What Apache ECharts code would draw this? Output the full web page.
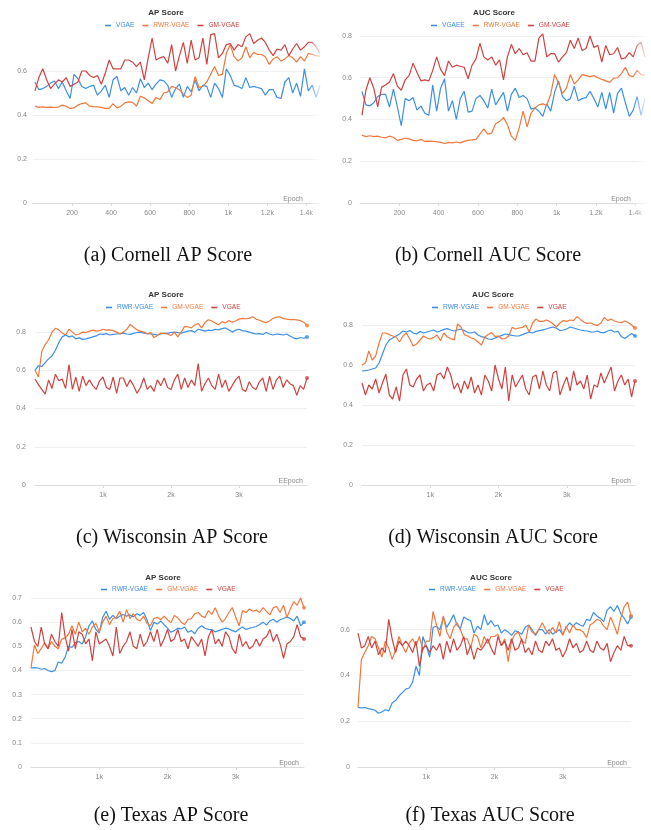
<!DOCTYPE html>
<html>
<head>
<meta charset="utf-8">
<script src="https://cdn.jsdelivr.net/npm/echarts@6/dist/echarts.min.js"></script>
<style>
html,body{margin:0;padding:0;background:#fff;}
#chart{width:651px;height:830px;}
</style>
</head>
<body>
<div id="chart"></div>
<script>
// ---------- Data ----------
const cornellEpochs = [10,30,50,70,90,110,130,150,170,190,210,230,250,270,290,310,330,350,370,390,410,430,450,470,490,510,530,550,570,590,610,630,650,670,690,710,730,750,770,790,810,830,850,870,890,910,930,950,970,990,1010,1030,1050,1070,1090,1110,1130,1150,1170,1190,1210,1230,1250,1270,1290,1310,1330,1350,1370,1390,1410,1430,1450,1470];

const wiscEpochs = [0,50,100,150,200,250,300,350,400,450,500,550,600,650,700,750,800,850,900,950,1000,1050,1100,1150,1200,1250,1300,1350,1400,1450,1500,1550,1600,1650,1700,1750,1800,1850,1900,1950,2000,2050,2100,2150,2200,2250,2300,2350,2400,2450,2500,2550,2600,2650,2700,2750,2800,2850,2900,2950,3000,3050,3100,3150,3200,3250,3300,3350,3400,3450,3500,3550,3600,3650,3700,3750,3800,3850,3900,3950,4000];

// (a) Cornell AP
const cornellApVGAE = [0.55,0.515,0.52,0.53,0.545,0.555,0.52,0.55,0.51,0.475,0.585,0.565,0.53,0.52,0.53,0.535,0.49,0.51,0.535,0.48,0.56,0.575,0.51,0.525,0.49,0.525,0.50,0.565,0.525,0.545,0.515,0.54,0.56,0.555,0.535,0.48,0.52,0.54,0.48,0.53,0.505,0.56,0.51,0.535,0.53,0.48,0.545,0.52,0.48,0.61,0.58,0.535,0.53,0.52,0.57,0.525,0.53,0.525,0.52,0.49,0.515,0.515,0.48,0.475,0.55,0.57,0.50,0.545,0.485,0.61,0.51,0.535,0.48,0.535];
const cornellApRWR = [0.44,0.435,0.437,0.435,0.436,0.434,0.436,0.445,0.44,0.43,0.432,0.445,0.452,0.455,0.44,0.438,0.437,0.435,0.43,0.43,0.452,0.432,0.44,0.455,0.46,0.458,0.44,0.485,0.478,0.465,0.452,0.48,0.47,0.50,0.505,0.53,0.525,0.515,0.495,0.48,0.49,0.575,0.525,0.53,0.55,0.585,0.62,0.58,0.585,0.68,0.72,0.665,0.645,0.66,0.71,0.66,0.685,0.675,0.675,0.665,0.63,0.655,0.665,0.645,0.655,0.67,0.66,0.64,0.665,0.645,0.68,0.675,0.67,0.665];
const cornellApGM = [0.51,0.57,0.61,0.56,0.52,0.54,0.56,0.55,0.57,0.53,0.54,0.55,0.60,0.60,0.58,0.57,0.58,0.54,0.59,0.65,0.61,0.61,0.61,0.65,0.65,0.64,0.62,0.64,0.56,0.66,0.75,0.65,0.66,0.665,0.635,0.72,0.60,0.67,0.73,0.635,0.74,0.65,0.66,0.75,0.63,0.765,0.77,0.66,0.68,0.72,0.725,0.695,0.72,0.71,0.755,0.77,0.725,0.74,0.75,0.73,0.695,0.67,0.70,0.695,0.72,0.67,0.70,0.725,0.695,0.71,0.73,0.73,0.71,0.68];

// (b) Cornell AUC
const cornellAucVGAEE = [0.535,0.47,0.465,0.48,0.51,0.52,0.52,0.46,0.545,0.46,0.37,0.50,0.49,0.505,0.445,0.465,0.43,0.42,0.565,0.44,0.55,0.595,0.44,0.49,0.40,0.50,0.535,0.435,0.44,0.50,0.515,0.49,0.455,0.545,0.47,0.50,0.53,0.44,0.52,0.55,0.505,0.515,0.50,0.45,0.455,0.44,0.415,0.475,0.44,0.53,0.585,0.51,0.49,0.50,0.56,0.49,0.50,0.505,0.535,0.50,0.46,0.53,0.45,0.53,0.43,0.525,0.55,0.48,0.415,0.445,0.51,0.42,0.50];
const cornellAucRWR = [0.325,0.318,0.322,0.318,0.320,0.315,0.312,0.320,0.315,0.300,0.305,0.310,0.307,0.300,0.298,0.305,0.295,0.296,0.295,0.294,0.290,0.285,0.290,0.288,0.292,0.288,0.295,0.300,0.302,0.305,0.33,0.355,0.33,0.335,0.38,0.39,0.41,0.375,0.32,0.30,0.36,0.44,0.365,0.43,0.455,0.47,0.475,0.468,0.52,0.615,0.575,0.525,0.55,0.615,0.57,0.59,0.615,0.61,0.605,0.61,0.60,0.592,0.585,0.578,0.598,0.60,0.62,0.65,0.61,0.605,0.635,0.615,0.61];
const cornellAucGM = [0.42,0.54,0.60,0.55,0.46,0.555,0.565,0.58,0.62,0.56,0.54,0.59,0.61,0.67,0.625,0.585,0.59,0.585,0.635,0.70,0.64,0.61,0.68,0.65,0.66,0.655,0.65,0.595,0.66,0.69,0.765,0.70,0.685,0.70,0.66,0.685,0.59,0.70,0.76,0.715,0.74,0.71,0.72,0.68,0.68,0.79,0.81,0.70,0.715,0.715,0.675,0.70,0.72,0.78,0.74,0.79,0.73,0.74,0.80,0.745,0.755,0.675,0.755,0.71,0.715,0.745,0.69,0.695,0.72,0.70,0.755,0.77,0.70];

// (c) Wisconsin AP
const wiscApRWR = [0.600,0.625,0.620,0.640,0.660,0.675,0.705,0.745,0.775,0.785,0.775,0.780,0.765,0.770,0.762,0.765,0.770,0.775,0.780,0.790,0.788,0.792,0.785,0.788,0.790,0.792,0.795,0.790,0.788,0.793,0.798,0.800,0.795,0.792,0.790,0.788,0.785,0.790,0.795,0.793,0.798,0.800,0.797,0.795,0.800,0.805,0.808,0.800,0.815,0.810,0.805,0.810,0.808,0.815,0.812,0.818,0.822,0.812,0.800,0.810,0.815,0.808,0.805,0.800,0.795,0.790,0.792,0.788,0.798,0.790,0.785,0.790,0.788,0.785,0.790,0.780,0.770,0.765,0.772,0.768,0.775];
const wiscApGM = [0.600,0.565,0.700,0.735,0.760,0.800,0.820,0.812,0.795,0.785,0.815,0.800,0.785,0.790,0.800,0.798,0.805,0.810,0.805,0.808,0.815,0.810,0.812,0.808,0.800,0.790,0.800,0.815,0.840,0.825,0.812,0.805,0.800,0.790,0.798,0.772,0.782,0.795,0.792,0.790,0.782,0.800,0.775,0.800,0.830,0.828,0.822,0.838,0.845,0.822,0.850,0.865,0.858,0.848,0.838,0.855,0.848,0.860,0.852,0.858,0.868,0.872,0.870,0.872,0.880,0.868,0.862,0.855,0.850,0.858,0.872,0.878,0.880,0.872,0.868,0.865,0.866,0.864,0.860,0.852,0.835];
const wiscApVGAE = [0.555,0.525,0.50,0.475,0.55,0.505,0.58,0.545,0.555,0.505,0.63,0.50,0.565,0.49,0.57,0.52,0.55,0.52,0.50,0.545,0.565,0.51,0.50,0.565,0.48,0.56,0.56,0.515,0.55,0.52,0.48,0.51,0.56,0.50,0.52,0.49,0.55,0.52,0.56,0.51,0.50,0.55,0.58,0.50,0.56,0.51,0.55,0.52,0.635,0.49,0.53,0.56,0.52,0.50,0.58,0.51,0.55,0.49,0.52,0.55,0.57,0.50,0.49,0.54,0.51,0.50,0.54,0.56,0.49,0.57,0.50,0.55,0.57,0.51,0.55,0.53,0.52,0.47,0.52,0.50,0.56];

// (d) Wisconsin AUC
const wiscAucRWR = [0.570,0.572,0.575,0.580,0.585,0.610,0.655,0.700,0.725,0.735,0.745,0.755,0.770,0.765,0.772,0.760,0.755,0.768,0.760,0.765,0.770,0.775,0.765,0.770,0.778,0.782,0.775,0.770,0.775,0.780,0.772,0.762,0.760,0.765,0.750,0.742,0.738,0.730,0.728,0.735,0.742,0.748,0.755,0.752,0.748,0.745,0.745,0.752,0.758,0.765,0.760,0.768,0.772,0.776,0.780,0.786,0.790,0.784,0.772,0.775,0.780,0.790,0.785,0.780,0.775,0.772,0.770,0.766,0.765,0.770,0.762,0.762,0.770,0.775,0.765,0.768,0.742,0.732,0.745,0.758,0.745];
const wiscAucGM = [0.600,0.610,0.670,0.625,0.645,0.710,0.760,0.760,0.752,0.745,0.740,0.715,0.745,0.760,0.730,0.695,0.705,0.725,0.745,0.735,0.730,0.738,0.750,0.722,0.760,0.740,0.732,0.725,0.805,0.790,0.752,0.745,0.735,0.730,0.715,0.700,0.740,0.752,0.762,0.742,0.745,0.730,0.732,0.745,0.788,0.780,0.785,0.788,0.800,0.765,0.810,0.830,0.818,0.818,0.825,0.818,0.805,0.790,0.810,0.822,0.818,0.825,0.822,0.842,0.828,0.815,0.808,0.810,0.802,0.798,0.810,0.838,0.822,0.830,0.820,0.815,0.812,0.820,0.812,0.800,0.785];
const wiscAucVGAE = [0.51,0.45,0.50,0.48,0.53,0.46,0.51,0.555,0.45,0.43,0.49,0.42,0.55,0.58,0.50,0.49,0.53,0.55,0.47,0.50,0.51,0.47,0.55,0.56,0.53,0.59,0.55,0.48,0.51,0.46,0.52,0.48,0.54,0.46,0.50,0.45,0.55,0.52,0.47,0.60,0.53,0.48,0.59,0.42,0.55,0.49,0.52,0.55,0.48,0.45,0.54,0.55,0.48,0.57,0.50,0.47,0.56,0.57,0.45,0.50,0.54,0.47,0.57,0.50,0.52,0.48,0.55,0.43,0.50,0.49,0.56,0.51,0.55,0.59,0.47,0.52,0.55,0.50,0.53,0.44,0.52];

// (e) Texas AP
const texasApRWR = [0.410,0.412,0.410,0.405,0.408,0.400,0.395,0.400,0.435,0.430,0.455,0.500,0.495,0.515,0.520,0.510,0.540,0.585,0.605,0.570,0.555,0.620,0.645,0.612,0.628,0.615,0.625,0.632,0.625,0.630,0.622,0.635,0.628,0.640,0.610,0.565,0.600,0.592,0.605,0.590,0.575,0.558,0.565,0.575,0.572,0.580,0.558,0.565,0.552,0.575,0.585,0.575,0.570,0.568,0.560,0.565,0.570,0.575,0.572,0.565,0.560,0.572,0.580,0.570,0.575,0.578,0.582,0.590,0.600,0.588,0.605,0.612,0.600,0.610,0.615,0.622,0.615,0.605,0.625,0.585,0.600];
const texasApGM = [0.41,0.505,0.47,0.49,0.515,0.49,0.52,0.50,0.49,0.53,0.535,0.55,0.585,0.55,0.60,0.56,0.575,0.55,0.58,0.595,0.56,0.60,0.625,0.59,0.615,0.62,0.645,0.60,0.652,0.615,0.635,0.612,0.605,0.625,0.595,0.585,0.615,0.62,0.61,0.625,0.61,0.598,0.628,0.618,0.60,0.59,0.612,0.615,0.635,0.64,0.625,0.62,0.648,0.632,0.66,0.625,0.60,0.615,0.64,0.66,0.62,0.585,0.648,0.64,0.655,0.645,0.65,0.64,0.66,0.645,0.63,0.66,0.665,0.64,0.67,0.62,0.655,0.685,0.67,0.70,0.66];
const texasApVGAE = [0.58,0.52,0.50,0.58,0.51,0.49,0.55,0.52,0.50,0.64,0.54,0.48,0.57,0.49,0.56,0.55,0.51,0.53,0.44,0.56,0.51,0.52,0.53,0.50,0.46,0.58,0.47,0.50,0.52,0.56,0.50,0.49,0.55,0.50,0.52,0.56,0.52,0.57,0.50,0.53,0.57,0.52,0.53,0.57,0.52,0.53,0.49,0.54,0.52,0.50,0.53,0.46,0.54,0.57,0.51,0.53,0.50,0.56,0.54,0.49,0.47,0.55,0.50,0.52,0.49,0.50,0.53,0.50,0.53,0.54,0.57,0.52,0.55,0.51,0.45,0.51,0.52,0.54,0.59,0.54,0.53];

// (f) Texas AUC
const texasAucRWR = [0.26,0.258,0.26,0.255,0.252,0.248,0.235,0.24,0.25,0.245,0.28,0.29,0.31,0.325,0.34,0.345,0.37,0.44,0.40,0.57,0.53,0.48,0.61,0.615,0.60,0.655,0.61,0.635,0.665,0.62,0.605,0.655,0.645,0.64,0.585,0.615,0.60,0.665,0.62,0.64,0.615,0.62,0.585,0.60,0.59,0.575,0.595,0.59,0.58,0.61,0.62,0.60,0.575,0.60,0.60,0.58,0.60,0.58,0.59,0.60,0.578,0.61,0.63,0.615,0.63,0.62,0.615,0.645,0.64,0.675,0.66,0.65,0.635,0.685,0.70,0.68,0.705,0.67,0.65,0.625,0.655];
const texasAucGM = [0.26,0.47,0.50,0.53,0.57,0.56,0.52,0.48,0.55,0.52,0.47,0.51,0.57,0.53,0.50,0.54,0.56,0.53,0.57,0.51,0.55,0.55,0.68,0.62,0.57,0.66,0.59,0.56,0.61,0.63,0.60,0.56,0.56,0.52,0.58,0.57,0.52,0.57,0.54,0.57,0.57,0.58,0.53,0.56,0.46,0.55,0.58,0.59,0.55,0.54,0.62,0.59,0.58,0.60,0.63,0.60,0.58,0.61,0.585,0.635,0.575,0.615,0.585,0.62,0.60,0.60,0.59,0.565,0.62,0.63,0.645,0.64,0.615,0.60,0.655,0.62,0.58,0.65,0.70,0.72,0.66];
const texasAucVGAE = [0.585,0.52,0.53,0.57,0.52,0.55,0.49,0.52,0.50,0.645,0.56,0.50,0.55,0.53,0.55,0.53,0.50,0.55,0.44,0.52,0.53,0.50,0.53,0.51,0.54,0.47,0.55,0.50,0.56,0.51,0.53,0.57,0.49,0.53,0.47,0.52,0.51,0.53,0.56,0.52,0.49,0.57,0.53,0.55,0.51,0.56,0.51,0.52,0.56,0.50,0.52,0.49,0.55,0.51,0.50,0.55,0.53,0.56,0.51,0.52,0.48,0.51,0.56,0.52,0.54,0.50,0.51,0.55,0.51,0.50,0.55,0.52,0.51,0.54,0.46,0.50,0.53,0.51,0.57,0.53,0.53];

const captions = ['(a) Cornell AP Score','(b) Cornell AUC Score','(c) Wisconsin AP Score','(d) Wisconsin AUC Score','(e) Texas AP Score','(f) Texas AUC Score'];

// ---------- Styles ----------
const BLUE = '#3b8fe5', ORANGE = '#f0783d', RED = '#cf4240';
const SANS = '"Liberation Sans", Arial, sans-serif';
const SERIF = '"Liberation Serif", "DejaVu Serif", serif';

const panels = [
  {title:'AP Score', tx:166, ty:8.5, lx:105, ly:22,
   grid:{left:33, top:31.4, width:289, height:171.6}, xMax:1480, xInt:200, yMax:0.78, yInt:0.2, yMargin:6,
   epochs:cornellEpochs, names:['VGAE','RWR-VGAE','GM-VGAE'], colors:[BLUE,ORANGE,RED],
   data:[cornellApVGAE, cornellApRWR, cornellApGM], xName:'Epoch', nameGap:-19, dot:false, fade:true,
   cap:[168,256]},
  {title:'AUC Score', tx:494, ty:8.5, lx:431, ly:22,
   grid:{left:360, top:31.8, width:287, height:171.2}, xMax:1460, xInt:200, yMax:0.82, yInt:0.2, yMargin:8,
   epochs:cornellEpochs, names:['VGAEE','RWR-VGAE','GM-VGAE'], colors:[BLUE,ORANGE,RED],
   data:[cornellAucVGAEE, cornellAucRWR, cornellAucGM], xName:'Epoch', nameGap:-16, dot:false, fade:true,
   cap:[488,256]},
  {title:'AP Score', tx:166, ty:290.5, lx:106, ly:304,
   grid:{left:35, top:313, width:272, height:172}, xMax:4000, xInt:1000, yMax:0.9, yInt:0.2, yMargin:9,
   epochs:wiscEpochs, names:['RWR-VGAE','GM-VGAE','VGAE'], colors:[BLUE,ORANGE,RED],
   data:[wiscApRWR, wiscApGM, wiscApVGAE], xName:'EEpoch', nameGap:-4, dot:true, fade:false,
   cap:[172,538]},
  {title:'AUC Score', tx:493, ty:290.5, lx:432, ly:304,
   grid:{left:362, top:313, width:273, height:172}, xMax:4000, xInt:1000, yMax:0.86, yInt:0.2, yMargin:9,
   epochs:wiscEpochs, names:['RWR-VGAE','GM-VGAE','VGAE'], colors:[BLUE,ORANGE,RED],
   data:[wiscAucRWR, wiscAucGM, wiscAucVGAE], xName:'Epoch', nameGap:-4, dot:true, fade:false,
   cap:[493,538]},
  {title:'AP Score', tx:163, ty:573.5, lx:101, ly:586,
   grid:{left:31, top:593.2, width:273, height:173.8}, xMax:4000, xInt:1000, yMax:0.72, yInt:0.1, yMargin:9,
   epochs:wiscEpochs, names:['RWR-VGAE','GM-VGAE','VGAE'], colors:[BLUE,ORANGE,RED],
   data:[texasApRWR, texasApGM, texasApVGAE], xName:'Epoch', nameGap:-5, dot:true, fade:false,
   cap:[171,816]},
  {title:'AUC Score', tx:491, ty:573.5, lx:429, ly:586,
   grid:{left:358, top:593, width:273, height:174}, xMax:4000, xInt:1000, yMax:0.76, yInt:0.2, yMargin:8,
   epochs:wiscEpochs, names:['RWR-VGAE','GM-VGAE','VGAE'], colors:[BLUE,ORANGE,RED],
   data:[texasAucRWR, texasAucGM, texasAucVGAE], xName:'Epoch', nameGap:-4, dot:true, fade:false,
   cap:[490,816]}
];

function fmtX(v){ return v >= 1000 ? (v/1000) + 'k' : String(v); }
function fmtY(v){ return String(Math.round(v*10)/10); }

const option = {
  animation:false,
  backgroundColor:'#fff',
  title:[], legend:[], grid:[], xAxis:[], yAxis:[], series:[], graphic:[]
};

panels.forEach((p, i) => {
  option.title.push({text:p.title, left:p.tx, top:p.ty, textAlign:'center', padding:0,
    textStyle:{fontFamily:SANS, fontSize:8, fontWeight:'bold', color:'#333'}});
  option.legend.push({
    left:p.lx, top:p.ly, padding:0, itemGap:8, itemWidth:6, itemHeight:1.6, icon:'rect',
    selectedMode:false,
    textStyle:{fontFamily:SANS, fontSize:6.6},
    data:p.names.map((n,k)=>({name:n, icon:'rect', itemStyle:{color:p.colors[k]}, textStyle:{color:p.colors[k]}}))
  });
  option.grid.push(Object.assign({containLabel:false}, p.grid));
  option.xAxis.push({
    type:'value', gridIndex:i, min:0, max:p.xMax, interval:p.xInt,
    name:p.xName, nameLocation:'end', nameGap:p.nameGap,
    nameTextStyle:{fontFamily:SANS, fontSize:7, color:'#888', align:'right', verticalAlign:'bottom'},
    axisLine:{show:true, lineStyle:{color:'#dcdcdc', width:1}},
    axisTick:{show:true, length:3, lineStyle:{color:'#dcdcdc'}},
    axisLabel:{fontFamily:SANS, fontSize:7, color:'#888', margin:7, showMinLabel:false, showMaxLabel:false, formatter:fmtX},
    splitLine:{show:false}
  });
  option.yAxis.push({
    type:'value', gridIndex:i, min:0, max:p.yMax, interval:p.yInt,
    axisLine:{show:false}, axisTick:{show:false},
    axisLabel:{fontFamily:SANS, fontSize:7, color:'#888', margin:p.yMargin, showMaxLabel:false, formatter:fmtY},
    splitLine:{show:true, showMaxLine:false, showMinLine:false, lineStyle:{color:'#f0f0f0', width:1}}
  });
  p.names.forEach((n,k)=>{
    const vals = p.data[k];
    const pts = vals.map((v,j)=>[p.epochs[j], v]);
    option.series.push({
      type:'line', name:n, xAxisIndex:i, yAxisIndex:i, data:pts,
      showSymbol:false, symbol:'none', smooth:false,
      lineStyle:{color:p.colors[k], width:1.2}, itemStyle:{color:p.colors[k]},
      emphasis:{disabled:true}, z:2+k
    });
    if (p.dot) {
      option.series.push({
        type:'scatter', name:n, xAxisIndex:i, yAxisIndex:i, data:[pts[pts.length-1]],
        symbol:'circle', symbolSize:4, itemStyle:{color:p.colors[k]}, z:6, emphasis:{disabled:true}
      });
    }
  });
  if (p.fade) {
    const gx = p.grid.left + p.grid.width;
    option.graphic.push({type:'rect', shape:{x:gx-14, y:p.grid.top-4, width:18, height:p.grid.height+20},
      style:{fill:new echarts.graphic.LinearGradient(0,0,1,0,[{offset:0,color:'rgba(255,255,255,0)'},{offset:0.85,color:'rgba(255,255,255,1)'},{offset:1,color:'rgba(255,255,255,1)'}])},
      z:100, silent:true});
  }
  option.graphic.push({type:'text', x:p.cap[0], y:p.cap[1], z:100,
    style:{text:captions[i], fontFamily:SERIF, fontSize:20, fill:'#111', textAlign:'center', textVerticalAlign:'middle'}});
});

const chart = echarts.init(document.getElementById('chart'), null, {renderer:'canvas'});
chart.setOption(option);
</script>
</body>
</html>
